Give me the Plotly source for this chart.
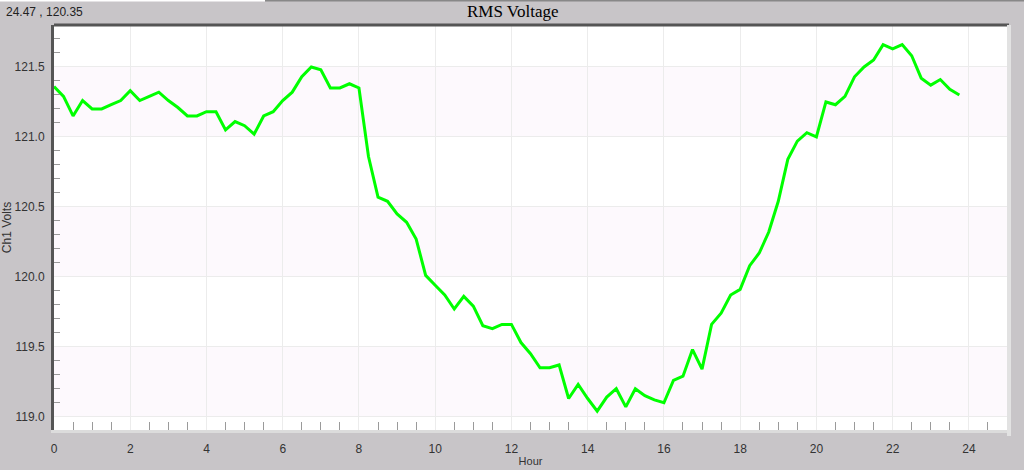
import plotly.graph_objects as go

# sample times (hour of day), one reading every 15 minutes
hours = [
    0.0, 0.25, 0.5, 0.75, 1.0, 1.25, 1.5, 1.75, 2.0, 2.25, 2.5, 2.75,
    3.0, 3.25, 3.5, 3.75, 4.0, 4.25, 4.5, 4.75, 5.0, 5.25, 5.5, 5.75,
    6.0, 6.25, 6.5, 6.75, 7.0, 7.25, 7.5, 7.75, 8.0, 8.25, 8.5, 8.75,
    9.0, 9.25, 9.5, 9.75, 10.0, 10.25, 10.5, 10.75, 11.0, 11.25, 11.5, 11.75,
    12.0, 12.25, 12.5, 12.75, 13.0, 13.25, 13.5, 13.75, 14.0, 14.25, 14.5, 14.75,
    15.0, 15.25, 15.5, 15.75, 16.0, 16.25, 16.5, 16.75, 17.0, 17.25, 17.5, 17.75,
    18.0, 18.25, 18.5, 18.75, 19.0, 19.25, 19.5, 19.75, 20.0, 20.25, 20.5, 20.75,
    21.0, 21.25, 21.5, 21.75, 22.0, 22.25, 22.5, 22.75, 23.0, 23.25, 23.5, 23.75,
]

ch1_volts = [
    121.36, 121.29, 121.15, 121.26, 121.20, 121.20, 121.23, 121.26, 121.33, 121.26, 121.29, 121.32,
    121.26, 121.21, 121.15, 121.15, 121.18, 121.18, 121.05, 121.11, 121.08, 121.02, 121.15, 121.18,
    121.26, 121.32, 121.43, 121.50, 121.48, 121.35, 121.35, 121.38, 121.35, 120.86, 120.57, 120.54,
    120.45, 120.39, 120.27, 120.01, 119.94, 119.87, 119.77, 119.86, 119.79, 119.65, 119.63, 119.66,
    119.66, 119.53, 119.45, 119.35, 119.35, 119.37, 119.13, 119.23, 119.13, 119.04, 119.14, 119.20,
    119.07, 119.20, 119.15, 119.12, 119.10, 119.26, 119.29, 119.48, 119.34, 119.66, 119.74, 119.87,
    119.91, 120.08, 120.17, 120.32, 120.54, 120.84, 120.97, 121.03, 121.00, 121.25, 121.23, 121.29,
    121.43, 121.50, 121.55, 121.66, 121.63, 121.66, 121.58, 121.42, 121.37, 121.41, 121.34, 121.30,
]

x_range = [0, 25]
y_range = [118.905, 121.8]
band_ranges = [[119.0, 119.5], [120.0, 120.5], [121.0, 121.5]]

W, H = 1024, 470
ml, mr, mt, mb = 54, 17, 25, 40
pw, ph = W - ml - mr, H - mt - mb

fig = go.Figure()
fig.add_trace(go.Scatter(x=hours, y=ch1_volts, mode="lines",
                         line=dict(color="#00ff00", width=3), hoverinfo="x+y"))

# alternating pale bands
for lo, hi in band_ranges:
    fig.add_shape(type="rect", xref="paper", yref="y", x0=0, x1=1, y0=lo, y1=hi,
                  fillcolor="#fdf9fd", line_width=0, layer="below")

# dark frame line along the top of the plot, light one on the right
fig.add_shape(type="line", xref="paper", yref="paper", x0=0, x1=1 + 2 / pw, y0=1.0, y1=1.0,
              line=dict(color="#555555", width=3))
fig.add_shape(type="line", xref="paper", yref="paper", x0=1 + 2 / pw, x1=1 + 2 / pw, y0=-6 / ph, y1=1,
              line=dict(color="#e2e2e2", width=4))
# thin strip at the very top of the window
fig.add_shape(type="line", xref="paper", yref="paper", x0=-ml / pw, x1=(265 - ml) / pw,
              y0=(H - mb - 0.5) / ph, y1=(H - mb - 0.5) / ph, line=dict(color="#ffffff", width=2))
fig.add_shape(type="line", xref="paper", yref="paper", x0=(265 - ml) / pw, x1=(W - ml) / pw,
              y0=(H - mb - 0.5) / ph, y1=(H - mb - 0.5) / ph, line=dict(color="#888888", width=2))

fig.add_annotation(text="RMS Voltage", xref="paper", yref="paper", x=(W / 2 - ml) / pw, y=1 + 13 / ph,
                   showarrow=False, xanchor="center", yanchor="middle",
                   font=dict(family="Liberation Serif", size=17, color="#000000"))
fig.add_annotation(text="24.47 , 120.35", xref="paper", yref="paper", x=(4 - ml) / pw, y=1 + 13 / ph,
                   showarrow=False, xanchor="left", yanchor="middle",
                   font=dict(family="Liberation Sans", size=12, color="#222222"))

fig.update_layout(
    width=W, height=H,
    margin=dict(l=ml, r=mr, t=mt, b=mb, pad=0, autoexpand=False),
    paper_bgcolor="#c8c5c8", plot_bgcolor="#ffffff",
    showlegend=False,
    font=dict(family="Liberation Sans", size=12, color="#333333"),
)
fig.update_xaxes(
    range=x_range, dtick=2, tick0=0, showgrid=True, gridcolor="#ececec", gridwidth=1,
    zeroline=False, showline=True, linecolor="#dcdcdc", linewidth=3, automargin=False,
    ticks="", ticklabelstandoff=6, tickfont=dict(size=12, color="#333333"),
    minor=dict(dtick=0.5, ticks="inside", ticklen=8, tickcolor="#9a9a9a", showgrid=False),
    title=dict(text="Hour", font=dict(size=11, color="#333333"), standoff=2),
)
fig.update_yaxes(
    range=y_range, dtick=0.5, tick0=119, tickformat=".1f", showgrid=True, gridcolor="#ececec",
    gridwidth=1, zeroline=False, showline=True, linecolor="#555555", linewidth=3, automargin=False,
    ticks="", ticklabelstandoff=4, tickfont=dict(size=12, color="#333333"),
    minor=dict(dtick=0.1, ticks="inside", ticklen=6, tickcolor="#9a9a9a", showgrid=False),
    title=dict(text="Ch1 Volts", font=dict(size=12, color="#333333"), standoff=2),
)

# the page's default body margin would shift the figure; drop it
fig.write_html("out.html", config={"displayModeBar": False},
               post_script="document.body.style.margin='0';document.body.style.overflow='hidden';")
